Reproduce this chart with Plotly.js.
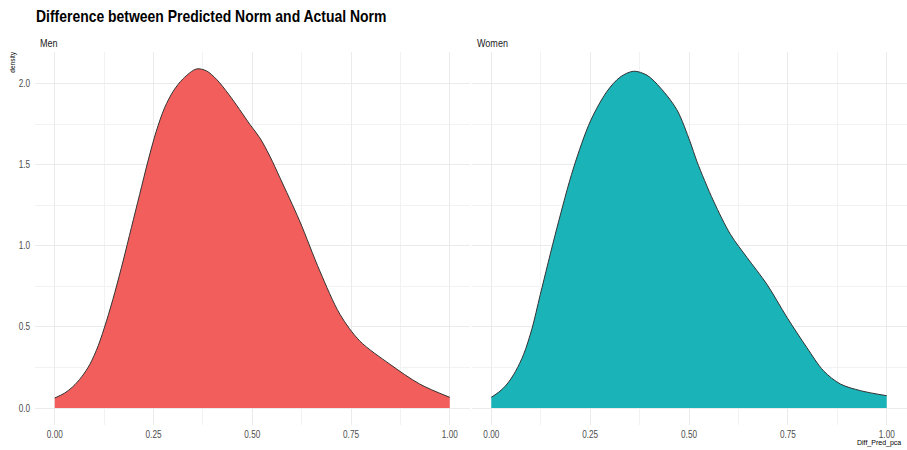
<!DOCTYPE html>
<html>
<head>
<meta charset="utf-8">
<script src="https://cdn.plot.ly/plotly-3.0.1.min.js"></script>
<style>html,body{margin:0;padding:0;background:#fff;}#chart{width:907px;height:450px;}</style>
</head>
<body>
<div id="chart"></div>
<script>
// Density estimates
const menX = [0.00, 0.025, 0.046, 0.068, 0.089, 0.110, 0.131, 0.152, 0.173, 0.194, 0.215, 0.236, 0.257, 0.278, 0.300, 0.325, 0.359, 0.384, 0.410, 0.440, 0.468, 0.494, 0.519, 0.545, 0.570, 0.620, 0.671, 0.722, 0.772, 0.848, 0.924, 1.00];
const menY = [0.062, 0.092, 0.132, 0.192, 0.27, 0.384, 0.537, 0.712, 0.906, 1.112, 1.317, 1.522, 1.706, 1.85, 1.953, 2.03, 2.090, 2.078, 2.025, 1.935, 1.84, 1.748, 1.666, 1.55, 1.42, 1.153, 0.845, 0.578, 0.414, 0.271, 0.148, 0.066];
const womenX = [0.00, 0.020, 0.040, 0.061, 0.082, 0.103, 0.124, 0.166, 0.208, 0.251, 0.293, 0.326, 0.360, 0.394, 0.428, 0.469, 0.503, 0.520, 0.562, 0.605, 0.647, 0.697, 0.748, 0.798, 0.840, 0.883, 0.934, 1.00];
const womenY = [0.066, 0.100, 0.148, 0.225, 0.332, 0.49, 0.70, 1.11, 1.48, 1.77, 1.953, 2.04, 2.076, 2.051, 1.973, 1.84, 1.64, 1.52, 1.276, 1.07, 0.927, 0.763, 0.558, 0.373, 0.23, 0.148, 0.107, 0.076];
const xTicks = [0, 0.25, 0.5, 0.75, 1.0];
const xTickText = ["0.00", "0.25", "0.50", "0.75", "1.00"];
const yTicks = [0, 0.5, 1.0, 1.5, 2.0];
const yTickText = ["0.0", "0.5", "1.0", "1.5", "2.0"];
const panelNames = ["Men", "Women"];

const W = 907, H = 450;
const FONT = '"Liberation Sans", Arial, sans-serif';
const px = v => v / W;
const py = v => 1 - v / H;

const traces = [
  {x: menX, y: menY, xaxis: 'x', yaxis: 'y', type: 'scatter', mode: 'lines',
   fill: 'tozeroy', fillcolor: '#F25E5B', line: {color: '#333333', width: 1, shape: 'spline', smoothing: 0.9},
   hoverinfo: 'skip', showlegend: false},
  {x: womenX, y: womenY, xaxis: 'x2', yaxis: 'y2', type: 'scatter', mode: 'lines',
   fill: 'tozeroy', fillcolor: '#19B3B8', line: {color: '#333333', width: 1, shape: 'spline', smoothing: 0.9},
   hoverinfo: 'skip', showlegend: false}
];

function xax(domain) {
  return {
    domain: domain, range: [-0.05, 1.05], tickvals: xTicks, ticktext: xTickText,
    showgrid: true, gridcolor: '#EBEBEB', gridwidth: 1, zeroline: false, showline: false,
    ticks: '', ticklabelstandoff: 2,
    tickfont: {family: FONT, size: 10, color: '#4D4D4D'},
    minor: {tick0: 0.125, dtick: 0.25, showgrid: true, gridcolor: '#F2F2F2', gridwidth: 1},
    fixedrange: true
  };
}
function yax(anchor, showLabels) {
  return {
    anchor: anchor, domain: [py(425), py(52)], range: [-0.1045, 2.1945],
    tickvals: yTicks, ticktext: yTickText, showticklabels: showLabels,
    showgrid: true, gridcolor: '#EBEBEB', gridwidth: 1, zeroline: false, showline: false,
    ticks: '', ticklabelstandoff: 4,
    tickfont: {family: FONT, size: 10, color: '#4D4D4D'},
    minor: {tick0: 0.25, dtick: 0.5, showgrid: true, gridcolor: '#F2F2F2', gridwidth: 1},
    fixedrange: true
  };
}

const layout = {
  width: W, height: H,
  margin: {l: 0, r: 0, t: 0, b: 0},
  paper_bgcolor: '#FFFFFF', plot_bgcolor: 'rgba(0,0,0,0)',
  title: {text: '<b>Difference between Predicted Norm and Actual Norm</b>',
          x: px(36), xanchor: 'left', xref: 'paper', y: py(16), yanchor: 'middle', yref: 'paper',
          font: {family: FONT, size: 17, color: '#000000'}},
  xaxis: Object.assign(xax([px(35), px(469.5)]), {anchor: 'y'}),
  xaxis2: Object.assign(xax([px(471.5), px(906.5)]), {anchor: 'y2'}),
  yaxis: yax('x', true),
  yaxis2: Object.assign(yax('x2', false), {matches: 'y'}),
  annotations: [
    {text: panelNames[0], xref: 'paper', yref: 'paper', x: px(38), y: py(43), xanchor: 'left', yanchor: 'middle',
     showarrow: false, font: {family: FONT, size: 11, color: '#1A1A1A'}},
    {text: panelNames[1], xref: 'paper', yref: 'paper', x: px(475), y: py(43), xanchor: 'left', yanchor: 'middle',
     showarrow: false, font: {family: FONT, size: 11, color: '#1A1A1A'}},
    {text: 'density', xref: 'paper', yref: 'paper', x: px(12), y: py(63), xanchor: 'center', yanchor: 'middle',
     textangle: -90, showarrow: false, font: {family: FONT, size: 8, color: '#000000'}},
    {text: 'Diff_Pred_pca', xref: 'paper', yref: 'paper', x: px(903), y: py(443), xanchor: 'right', yanchor: 'middle',
     showarrow: false, font: {family: FONT, size: 7, color: '#000000'}}
  ]
};

// Condense text to mimic the narrow typeface of the reference
function condense(root, factor) {
  root.querySelectorAll('svg text').forEach(el => {
    const txt = el.textContent;
    if (!txt || !txt.trim()) return;
    if (txt === 'Diff_Pred_pca') return;
    let mode = 'center';
    if (el.classList.contains('gtitle')) mode = 'left';
    else if (el.classList.contains('ytick') || (el.parentNode && el.parentNode.classList && el.parentNode.classList.contains('ytick'))) mode = 'right';
    else if (el.classList.contains('annotation-text')) {
      if (txt === 'density') mode = 'center';
      else mode = 'left';
    }
    const b0 = el.getBBox();
    const len = el.getComputedTextLength();
    el.setAttribute('textLength', (len * factor).toFixed(2));
    el.setAttribute('lengthAdjust', 'spacingAndGlyphs');
    const b1 = el.getBBox();
    let dx = 0;
    if (mode === 'left') dx = b0.x - b1.x;
    else if (mode === 'right') dx = (b0.x + b0.width) - (b1.x + b1.width);
    else dx = (b0.x + b0.width / 2) - (b1.x + b1.width / 2);
    if (Math.abs(dx) > 0.01) {
      const x = parseFloat(el.getAttribute('x') || '0');
      el.setAttribute('x', (x + dx).toFixed(2));
    }
  });
}

Plotly.newPlot('chart', traces, layout, {displayModeBar: false, staticPlot: true}).then(gd => {
  condense(gd, 0.82);
});
</script>
</body>
</html>
